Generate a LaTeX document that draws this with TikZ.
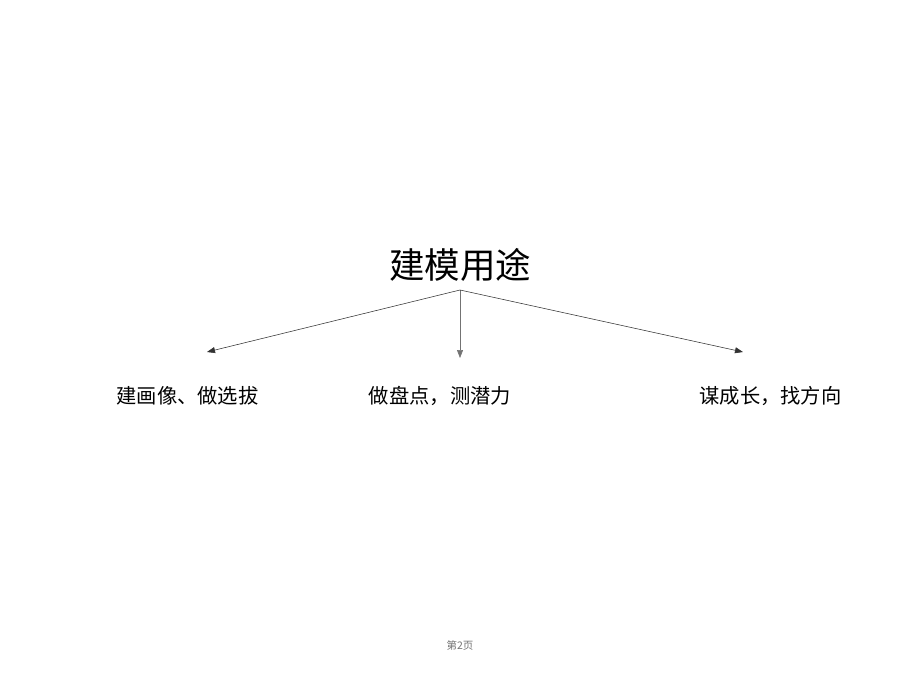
\documentclass[tikz,border=0pt]{standalone}
\usepackage{fontspec}
\newfontfamily\cjk{Noto Sans CJK SC}
\usetikzlibrary{arrows.meta}
\tikzset{
  lbl/.style={font=\cjk\fontsize{20.3}{21}\selectfont, inner sep=0pt, text=black},
  conn/.style={draw=black!80, line width=0.55pt, -{Triangle[length=8pt,width=6pt]}},
}
\begin{document}
\begin{tikzpicture}[x=1pt,y=-1pt]
\useasboundingbox (0,0) rectangle (920,690);
\fill[white] (0,0) rectangle (920,690);
\node[font=\cjk\fontsize{35.5}{36}\selectfont, inner sep=0pt, text=black] (title) at (460,265) {建模用途};
\coordinate (apex) at (460,290);
\coordinate (tl) at (207,352);
\coordinate (tm) at (460,358);
\coordinate (tr) at (743,352);
\draw[conn] (apex) -- (tl);
\draw[conn, draw=black!55] (apex) -- (tm);
\draw[conn] (apex) -- (tr);
\node[lbl] (l1) at (187.5,396) {建画像、做选拔};
\node[lbl] (l2) at (440,396) {做盘点，测潜力};
\node[lbl] (l3) at (770.5,396) {谋成长，找方向};
\node[font=\cjk\fontsize{10.5}{11}\selectfont, inner sep=0pt, text=black!55] (foot) at (460,645) {第2页};
\end{tikzpicture}
\end{document}
